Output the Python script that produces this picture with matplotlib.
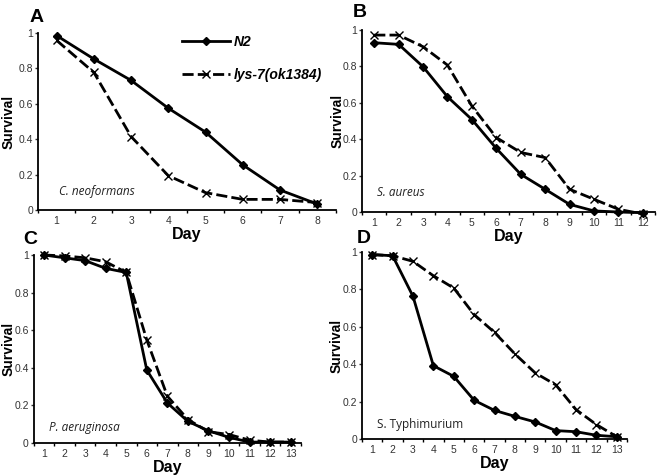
import numpy as np
import matplotlib.pyplot as plt

# survival curves
daysA = [1, 2, 3, 4, 5, 6, 7, 8]
n2_A = [0.985, 0.853, 0.732, 0.575, 0.44, 0.255, 0.113, 0.034]
lys_A = [0.958, 0.777, 0.415, 0.194, 0.098, 0.06, 0.06, 0.042]

daysB = [1, 2, 3, 4, 5, 6, 7, 8, 9, 10, 11, 12]
n2_B = [0.93, 0.921, 0.798, 0.633, 0.508, 0.349, 0.207, 0.125, 0.042, 0.006, 0.0, -0.004]
lys_B = [0.972, 0.972, 0.908, 0.807, 0.582, 0.409, 0.327, 0.299, 0.125, 0.07, 0.015, -0.011]

daysC = [1, 2, 3, 4, 5, 6, 7, 8, 9, 10, 11, 12, 13]
n2_C = [1.0, 0.985, 0.97, 0.929, 0.907, 0.388, 0.213, 0.115, 0.065, 0.03, 0.005, 0.005, 0.005]
lys_C = [1.0, 0.995, 0.985, 0.964, 0.907, 0.548, 0.249, 0.125, 0.06, 0.045, 0.015, 0.005, 0.005]

daysD = [1, 2, 3, 4, 5, 6, 7, 8, 9, 10, 11, 12, 13]
n2_D = [0.986, 0.98, 0.763, 0.392, 0.335, 0.207, 0.153, 0.121, 0.091, 0.045, 0.039, 0.02, 0.012]
lys_D = [0.986, 0.98, 0.95, 0.873, 0.807, 0.665, 0.57, 0.455, 0.353, 0.29, 0.157, 0.077, 0.012]

yticks = [0, 0.2, 0.4, 0.6, 0.8, 1]
ytick_labels = ['0', '0.2', '0.4', '0.6', '0.8', '1']

plt.rcParams['font.family'] = ['Liberation Sans', 'DejaVu Sans']

fig = plt.figure(figsize=(6.61, 4.76), dpi=100)

# letter, axes rect, data, species label, style, ylabel x, species text pos
panels = [
    ('A', [0.0575, 0.5588, 0.4505, 0.372], daysA, n2_A, lys_A, 'C. neoformans', 'italic', -0.074, (0.07, 0.085)),
    ('B', [0.5477, 0.5546, 0.4433, 0.3824], daysB, n2_B, lys_B, 'S. aureus', 'italic', -0.061, (0.051, 0.088)),
    ('C', [0.051, 0.0693, 0.4044, 0.395], daysC, n2_C, lys_C, 'P. aeruginosa', 'italic', -0.068, (0.057, 0.064)),
    ('D', [0.5477, 0.0777, 0.4009, 0.3929], daysD, n2_D, lys_D, 'S. Typhimurium', 'normal', -0.068, (0.057, 0.059)),
]

axes = {}
for letter, rect, days, n2, lys, species, style, ylx, spos in panels:
    ax = fig.add_axes(rect)
    axes[letter] = ax
    l1, = ax.plot(days, n2, color='black', lw=2, marker='D', ms=4, clip_on=False, label='N2')
    l2, = ax.plot(days, lys, color='black', lw=2, ls=(0, (4, 1.5)), marker='x', ms=6,
                  mew=1, clip_on=False, label='lys-7(ok1384)')
    ax.set_xlim(0.5, len(days) + 0.5)
    ax.set_ylim(0, 1)
    ax.set_xticks(days)
    ax.set_xticks(np.arange(0.5, len(days) + 1, 1), minor=True)
    ax.set_yticks(yticks)
    ax.set_yticklabels(ytick_labels)
    ax.tick_params(axis='x', which='major', length=0, labelsize=7.5, colors='#333333', pad=4)
    ax.tick_params(axis='x', which='minor', length=2.5, width=1, direction='out', colors='black')
    ax.tick_params(axis='y', length=2, width=1, labelsize=7.5, colors='#333333', pad=1.5)
    for s in ['top', 'right']:
        ax.spines[s].set_visible(False)
    for s in ['left', 'bottom']:
        ax.spines[s].set_linewidth(1.3)
    ax.set_xlabel('Day', fontsize=11.5, fontweight='bold', labelpad=1)
    ax.set_ylabel('Survival', fontsize=10, fontweight='bold')
    ax.yaxis.set_label_coords(ylx, 0.5)
    ax.text(spos[0], spos[1], species, transform=ax.transAxes, fontsize=8.5, style=style,
            family='Open Sans', color='#222222', va='baseline')

fig.text(0.044, 0.954, 'A', fontsize=14, fontweight='bold', va='baseline')
fig.text(0.534, 0.964, 'B', fontsize=14, fontweight='bold', va='baseline')
fig.text(0.035, 0.487, 'C', fontsize=14, fontweight='bold', va='baseline')
fig.text(0.540, 0.489, 'D', fontsize=14, fontweight='bold', va='baseline')

axes['A'].legend(handles=[l1, l2], loc='upper left', bbox_to_anchor=(0.443, 1.06),
                 frameon=False, handlelength=3.4, labelspacing=1.4, handletextpad=0.3,
                 prop={'weight': 'bold', 'style': 'italic', 'size': 10})

fig.savefig('out.png', dpi=100)
